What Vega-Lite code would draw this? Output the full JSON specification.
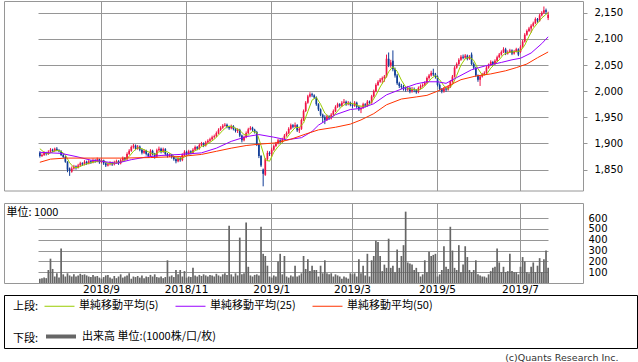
{
"$schema": "https://vega.github.io/schema/vega-lite/v6.json",
"padding": {"left": 3, "top": 0, "right": 0, "bottom": 0},
"autosize": {"type": "pad"},
"background": "white",
"bounds": "flush",
"config": {
  "view": {"stroke": "#969696", "strokeWidth": 1},
  "font": "DejaVu Sans",
  "axis": {"gridColor": "#969696", "gridOpacity": 1, "gridWidth": 1, "domain": false, "labelColor": "#000000", "labelFont": "DejaVu Sans", "labelOverlap": false}
},
"title": {"text": "(c)Quants Research Inc.", "orient": "bottom", "anchor": "end", "font": "DejaVu Sans", "fontSize": 9.5, "fontWeight": "normal", "color": "#333333", "offset": 4, "dx": -19},
"spacing": 12,
"datasets": {
"p": [
{"d":"2018-07-24","o":1882,"h":1885,"l":1873,"c":1876,"v":40},
{"d":"2018-07-25","o":1876,"h":1881,"l":1874,"c":1878,"v":45},
{"d":"2018-07-26","o":1878,"h":1885,"l":1876,"c":1882,"v":50},
{"d":"2018-07-27","o":1882,"h":1884,"l":1877,"c":1880,"v":45},
{"d":"2018-07-30","o":1880,"h":1887,"l":1878,"c":1884,"v":120},
{"d":"2018-07-31","o":1884,"h":1891,"l":1882,"c":1888,"v":225},
{"d":"2018-08-01","o":1888,"h":1890,"l":1883,"c":1886,"v":130},
{"d":"2018-08-02","o":1886,"h":1892,"l":1884,"c":1890,"v":60},
{"d":"2018-08-03","o":1890,"h":1893,"l":1885,"c":1887,"v":90},
{"d":"2018-08-06","o":1887,"h":1889,"l":1883,"c":1885,"v":50},
{"d":"2018-08-07","o":1885,"h":1887,"l":1876,"c":1878,"v":320},
{"d":"2018-08-08","o":1878,"h":1880,"l":1872,"c":1874,"v":80},
{"d":"2018-08-09","o":1874,"h":1876,"l":1863,"c":1865,"v":60},
{"d":"2018-08-10","o":1865,"h":1866,"l":1845,"c":1850,"v":90},
{"d":"2018-08-13","o":1852,"h":1854,"l":1838,"c":1848,"v":70},
{"d":"2018-08-14","o":1846,"h":1856,"l":1844,"c":1852,"v":60},
{"d":"2018-08-15","o":1852,"h":1859,"l":1850,"c":1856,"v":80},
{"d":"2018-08-16","o":1856,"h":1858,"l":1850,"c":1854,"v":60},
{"d":"2018-08-17","o":1854,"h":1861,"l":1852,"c":1858,"v":70},
{"d":"2018-08-20","o":1858,"h":1865,"l":1856,"c":1862,"v":85},
{"d":"2018-08-21","o":1862,"h":1864,"l":1857,"c":1860,"v":75},
{"d":"2018-08-22","o":1860,"h":1868,"l":1858,"c":1865,"v":80},
{"d":"2018-08-23","o":1865,"h":1867,"l":1859,"c":1862,"v":70},
{"d":"2018-08-24","o":1862,"h":1869,"l":1860,"c":1866,"v":60},
{"d":"2018-08-27","o":1866,"h":1868,"l":1861,"c":1864,"v":55},
{"d":"2018-08-28","o":1864,"h":1871,"l":1862,"c":1868,"v":75},
{"d":"2018-08-29","o":1868,"h":1870,"l":1863,"c":1866,"v":60},
{"d":"2018-08-30","o":1866,"h":1873,"l":1864,"c":1870,"v":65},
{"d":"2018-08-31","o":1870,"h":1871,"l":1861,"c":1864,"v":50},
{"d":"2018-09-03","o":1864,"h":1870,"l":1862,"c":1868,"v":40},
{"d":"2018-09-04","o":1868,"h":1869,"l":1859,"c":1862,"v":55},
{"d":"2018-09-05","o":1862,"h":1864,"l":1855,"c":1858,"v":70},
{"d":"2018-09-06","o":1858,"h":1863,"l":1856,"c":1860,"v":75},
{"d":"2018-09-07","o":1860,"h":1866,"l":1858,"c":1863,"v":50},
{"d":"2018-09-10","o":1863,"h":1865,"l":1857,"c":1860,"v":40},
{"d":"2018-09-11","o":1860,"h":1867,"l":1858,"c":1864,"v":65},
{"d":"2018-09-12","o":1864,"h":1869,"l":1861,"c":1866,"v":45},
{"d":"2018-09-13","o":1866,"h":1868,"l":1859,"c":1862,"v":60},
{"d":"2018-09-14","o":1862,"h":1871,"l":1860,"c":1868,"v":80},
{"d":"2018-09-18","o":1868,"h":1875,"l":1866,"c":1872,"v":50},
{"d":"2018-09-19","o":1872,"h":1874,"l":1867,"c":1870,"v":60},
{"d":"2018-09-20","o":1870,"h":1883,"l":1868,"c":1880,"v":70},
{"d":"2018-09-21","o":1880,"h":1889,"l":1878,"c":1886,"v":90},
{"d":"2018-09-25","o":1886,"h":1896,"l":1884,"c":1893,"v":40},
{"d":"2018-09-26","o":1893,"h":1899,"l":1890,"c":1896,"v":60},
{"d":"2018-09-27","o":1896,"h":1898,"l":1887,"c":1890,"v":55},
{"d":"2018-09-28","o":1890,"h":1897,"l":1888,"c":1894,"v":65},
{"d":"2018-10-01","o":1894,"h":1896,"l":1885,"c":1888,"v":50},
{"d":"2018-10-02","o":1888,"h":1890,"l":1879,"c":1882,"v":70},
{"d":"2018-10-03","o":1882,"h":1889,"l":1880,"c":1886,"v":45},
{"d":"2018-10-04","o":1886,"h":1888,"l":1877,"c":1880,"v":60},
{"d":"2018-10-05","o":1880,"h":1882,"l":1873,"c":1876,"v":55},
{"d":"2018-10-09","o":1876,"h":1889,"l":1874,"c":1886,"v":75},
{"d":"2018-10-10","o":1886,"h":1888,"l":1877,"c":1880,"v":60},
{"d":"2018-10-11","o":1880,"h":1882,"l":1871,"c":1875,"v":80},
{"d":"2018-10-12","o":1875,"h":1890,"l":1873,"c":1887,"v":55},
{"d":"2018-10-15","o":1887,"h":1894,"l":1885,"c":1890,"v":50},
{"d":"2018-10-16","o":1890,"h":1892,"l":1881,"c":1884,"v":60},
{"d":"2018-10-17","o":1884,"h":1892,"l":1882,"c":1889,"v":45},
{"d":"2018-10-18","o":1889,"h":1891,"l":1877,"c":1880,"v":55},
{"d":"2018-10-19","o":1880,"h":1882,"l":1873,"c":1876,"v":210},
{"d":"2018-10-22","o":1876,"h":1881,"l":1874,"c":1878,"v":60},
{"d":"2018-10-23","o":1878,"h":1880,"l":1871,"c":1874,"v":70},
{"d":"2018-10-24","o":1874,"h":1876,"l":1867,"c":1870,"v":55},
{"d":"2018-10-25","o":1870,"h":1872,"l":1862,"c":1866,"v":120},
{"d":"2018-10-26","o":1866,"h":1875,"l":1864,"c":1872,"v":80},
{"d":"2018-10-29","o":1872,"h":1874,"l":1865,"c":1868,"v":120},
{"d":"2018-10-30","o":1868,"h":1881,"l":1866,"c":1878,"v":60},
{"d":"2018-10-31","o":1878,"h":1887,"l":1876,"c":1884,"v":110},
{"d":"2018-11-01","o":1884,"h":1886,"l":1877,"c":1880,"v":50},
{"d":"2018-11-02","o":1880,"h":1888,"l":1878,"c":1885,"v":60},
{"d":"2018-11-05","o":1885,"h":1887,"l":1879,"c":1882,"v":55},
{"d":"2018-11-06","o":1882,"h":1891,"l":1880,"c":1888,"v":140},
{"d":"2018-11-07","o":1888,"h":1896,"l":1886,"c":1893,"v":70},
{"d":"2018-11-08","o":1893,"h":1895,"l":1887,"c":1890,"v":60},
{"d":"2018-11-09","o":1890,"h":1900,"l":1888,"c":1897,"v":75},
{"d":"2018-11-12","o":1897,"h":1903,"l":1895,"c":1900,"v":65},
{"d":"2018-11-13","o":1900,"h":1902,"l":1893,"c":1896,"v":80},
{"d":"2018-11-14","o":1896,"h":1905,"l":1894,"c":1902,"v":70},
{"d":"2018-11-15","o":1902,"h":1908,"l":1900,"c":1905,"v":60},
{"d":"2018-11-16","o":1905,"h":1911,"l":1903,"c":1908,"v":75},
{"d":"2018-11-19","o":1908,"h":1915,"l":1906,"c":1912,"v":70},
{"d":"2018-11-20","o":1912,"h":1917,"l":1909,"c":1914,"v":60},
{"d":"2018-11-21","o":1914,"h":1923,"l":1912,"c":1920,"v":85},
{"d":"2018-11-22","o":1920,"h":1929,"l":1918,"c":1926,"v":70},
{"d":"2018-11-26","o":1926,"h":1933,"l":1924,"c":1930,"v":60},
{"d":"2018-11-27","o":1930,"h":1937,"l":1928,"c":1934,"v":80},
{"d":"2018-11-28","o":1934,"h":1939,"l":1932,"c":1936,"v":90},
{"d":"2018-11-29","o":1936,"h":1938,"l":1929,"c":1932,"v":75},
{"d":"2018-11-30","o":1932,"h":1934,"l":1926,"c":1929,"v":530},
{"d":"2018-12-03","o":1929,"h":1936,"l":1927,"c":1933,"v":80},
{"d":"2018-12-04","o":1933,"h":1935,"l":1925,"c":1928,"v":60},
{"d":"2018-12-05","o":1928,"h":1930,"l":1921,"c":1924,"v":90},
{"d":"2018-12-06","o":1924,"h":1929,"l":1920,"c":1926,"v":70},
{"d":"2018-12-07","o":1926,"h":1928,"l":1912,"c":1915,"v":420},
{"d":"2018-12-10","o":1915,"h":1917,"l":1902,"c":1906,"v":80},
{"d":"2018-12-11","o":1906,"h":1915,"l":1904,"c":1912,"v":90},
{"d":"2018-12-12","o":1912,"h":1923,"l":1910,"c":1920,"v":560},
{"d":"2018-12-13","o":1920,"h":1930,"l":1918,"c":1927,"v":150},
{"d":"2018-12-14","o":1927,"h":1933,"l":1925,"c":1930,"v":70},
{"d":"2018-12-17","o":1930,"h":1932,"l":1923,"c":1926,"v":60},
{"d":"2018-12-18","o":1926,"h":1928,"l":1919,"c":1922,"v":75},
{"d":"2018-12-19","o":1922,"h":1924,"l":1895,"c":1898,"v":80},
{"d":"2018-12-20","o":1898,"h":1900,"l":1872,"c":1876,"v":70},
{"d":"2018-12-21","o":1876,"h":1878,"l":1855,"c":1858,"v":520},
{"d":"2018-12-25","o":1850,"h":1852,"l":1818,"c":1842,"v":270},
{"d":"2018-12-26","o":1840,"h":1872,"l":1838,"c":1870,"v":250},
{"d":"2018-12-27","o":1870,"h":1886,"l":1866,"c":1882,"v":160},
{"d":"2018-12-28","o":1882,"h":1885,"l":1876,"c":1880,"v":60},
{"d":"2019-01-04","o":1880,"h":1892,"l":1874,"c":1888,"v":50},
{"d":"2019-01-07","o":1888,"h":1898,"l":1886,"c":1895,"v":70},
{"d":"2019-01-08","o":1895,"h":1903,"l":1893,"c":1900,"v":60},
{"d":"2019-01-09","o":1900,"h":1909,"l":1898,"c":1906,"v":200},
{"d":"2019-01-10","o":1906,"h":1908,"l":1900,"c":1903,"v":270},
{"d":"2019-01-11","o":1903,"h":1911,"l":1901,"c":1908,"v":80},
{"d":"2019-01-15","o":1908,"h":1918,"l":1906,"c":1915,"v":250},
{"d":"2019-01-16","o":1915,"h":1923,"l":1913,"c":1920,"v":60},
{"d":"2019-01-17","o":1920,"h":1931,"l":1918,"c":1928,"v":50},
{"d":"2019-01-18","o":1928,"h":1938,"l":1926,"c":1935,"v":70},
{"d":"2019-01-21","o":1935,"h":1937,"l":1929,"c":1932,"v":60},
{"d":"2019-01-22","o":1932,"h":1940,"l":1930,"c":1935,"v":160},
{"d":"2019-01-23","o":1935,"h":1937,"l":1922,"c":1925,"v":60},
{"d":"2019-01-24","o":1925,"h":1931,"l":1920,"c":1928,"v":70},
{"d":"2019-01-25","o":1928,"h":1948,"l":1926,"c":1945,"v":90},
{"d":"2019-01-28","o":1945,"h":1965,"l":1943,"c":1962,"v":250},
{"d":"2019-01-29","o":1962,"h":1981,"l":1960,"c":1978,"v":130},
{"d":"2019-01-30","o":1978,"h":1993,"l":1976,"c":1990,"v":220},
{"d":"2019-01-31","o":1990,"h":1998,"l":1988,"c":1994,"v":110},
{"d":"2019-02-01","o":1994,"h":1997,"l":1989,"c":1992,"v":160},
{"d":"2019-02-04","o":1992,"h":1994,"l":1985,"c":1988,"v":120},
{"d":"2019-02-05","o":1988,"h":1990,"l":1972,"c":1975,"v":120},
{"d":"2019-02-06","o":1975,"h":1977,"l":1962,"c":1965,"v":60},
{"d":"2019-02-07","o":1965,"h":1967,"l":1952,"c":1955,"v":160},
{"d":"2019-02-08","o":1955,"h":1957,"l":1940,"c":1950,"v":90},
{"d":"2019-02-12","o":1950,"h":1954,"l":1937,"c":1945,"v":210},
{"d":"2019-02-13","o":1945,"h":1955,"l":1943,"c":1952,"v":90},
{"d":"2019-02-14","o":1952,"h":1954,"l":1945,"c":1948,"v":80},
{"d":"2019-02-15","o":1948,"h":1958,"l":1946,"c":1955,"v":90},
{"d":"2019-02-18","o":1955,"h":1965,"l":1953,"c":1962,"v":60},
{"d":"2019-02-19","o":1962,"h":1973,"l":1960,"c":1970,"v":80},
{"d":"2019-02-20","o":1970,"h":1978,"l":1968,"c":1975,"v":70},
{"d":"2019-02-21","o":1975,"h":1977,"l":1969,"c":1972,"v":60},
{"d":"2019-02-22","o":1972,"h":1981,"l":1970,"c":1978,"v":40},
{"d":"2019-02-25","o":1978,"h":1985,"l":1976,"c":1980,"v":60},
{"d":"2019-02-26","o":1980,"h":1982,"l":1972,"c":1975,"v":50},
{"d":"2019-02-27","o":1975,"h":1981,"l":1973,"c":1978,"v":40},
{"d":"2019-02-28","o":1978,"h":1980,"l":1971,"c":1974,"v":90},
{"d":"2019-03-01","o":1974,"h":1977,"l":1968,"c":1972,"v":80},
{"d":"2019-03-04","o":1972,"h":1981,"l":1970,"c":1978,"v":90},
{"d":"2019-03-05","o":1978,"h":1980,"l":1967,"c":1970,"v":60},
{"d":"2019-03-06","o":1970,"h":1972,"l":1962,"c":1965,"v":220},
{"d":"2019-03-07","o":1965,"h":1971,"l":1958,"c":1968,"v":90},
{"d":"2019-03-08","o":1968,"h":1978,"l":1966,"c":1975,"v":160},
{"d":"2019-03-11","o":1975,"h":1977,"l":1969,"c":1972,"v":70},
{"d":"2019-03-12","o":1972,"h":1983,"l":1970,"c":1980,"v":270},
{"d":"2019-03-13","o":1980,"h":1982,"l":1975,"c":1978,"v":60},
{"d":"2019-03-14","o":1978,"h":1993,"l":1976,"c":1990,"v":210},
{"d":"2019-03-15","o":1990,"h":2003,"l":1988,"c":2000,"v":250},
{"d":"2019-03-18","o":2000,"h":2015,"l":1998,"c":2012,"v":390},
{"d":"2019-03-19","o":2012,"h":2021,"l":2010,"c":2018,"v":380},
{"d":"2019-03-20","o":2018,"h":2025,"l":2016,"c":2022,"v":250},
{"d":"2019-03-22","o":2022,"h":2028,"l":2015,"c":2025,"v":110},
{"d":"2019-03-25","o":2025,"h":2031,"l":2018,"c":2028,"v":170},
{"d":"2019-03-26","o":2028,"h":2070,"l":2026,"c":2062,"v":140},
{"d":"2019-03-27","o":2062,"h":2074,"l":2046,"c":2050,"v":410},
{"d":"2019-03-28","o":2050,"h":2060,"l":2045,"c":2055,"v":140},
{"d":"2019-03-29","o":2058,"h":2078,"l":2038,"c":2042,"v":160},
{"d":"2019-04-01","o":2042,"h":2045,"l":2026,"c":2030,"v":100},
{"d":"2019-04-02","o":2030,"h":2033,"l":2012,"c":2015,"v":310},
{"d":"2019-04-03","o":2015,"h":2018,"l":2006,"c":2010,"v":140},
{"d":"2019-04-04","o":2010,"h":2014,"l":2004,"c":2008,"v":250},
{"d":"2019-04-05","o":2008,"h":2012,"l":2001,"c":2005,"v":350},
{"d":"2019-04-08","o":2005,"h":2009,"l":1999,"c":2003,"v":660},
{"d":"2019-04-09","o":2003,"h":2010,"l":2000,"c":2006,"v":190},
{"d":"2019-04-10","o":2006,"h":2008,"l":1996,"c":2000,"v":180},
{"d":"2019-04-11","o":2000,"h":2008,"l":1997,"c":2004,"v":170},
{"d":"2019-04-12","o":2004,"h":2007,"l":1998,"c":2002,"v":120},
{"d":"2019-04-15","o":2002,"h":2004,"l":1995,"c":1998,"v":140},
{"d":"2019-04-16","o":1998,"h":2009,"l":1996,"c":2006,"v":100},
{"d":"2019-04-17","o":2006,"h":2013,"l":2003,"c":2010,"v":60},
{"d":"2019-04-18","o":2010,"h":2015,"l":2007,"c":2012,"v":80},
{"d":"2019-04-19","o":2012,"h":2019,"l":2010,"c":2016,"v":210},
{"d":"2019-04-22","o":2016,"h":2028,"l":2014,"c":2025,"v":100},
{"d":"2019-04-23","o":2025,"h":2033,"l":2022,"c":2030,"v":290},
{"d":"2019-04-24","o":2030,"h":2039,"l":2028,"c":2035,"v":250},
{"d":"2019-04-25","o":2035,"h":2043,"l":2029,"c":2032,"v":260},
{"d":"2019-04-26","o":2032,"h":2035,"l":2024,"c":2028,"v":270},
{"d":"2019-05-07","o":2028,"h":2030,"l":2009,"c":2012,"v":60},
{"d":"2019-05-08","o":2012,"h":2015,"l":2001,"c":2004,"v":80},
{"d":"2019-05-09","o":2004,"h":2006,"l":1996,"c":2000,"v":120},
{"d":"2019-05-10","o":2000,"h":2008,"l":1997,"c":2005,"v":340},
{"d":"2019-05-13","o":2005,"h":2007,"l":1999,"c":2003,"v":150},
{"d":"2019-05-14","o":2003,"h":2011,"l":2001,"c":2008,"v":130},
{"d":"2019-05-15","o":2008,"h":2021,"l":2006,"c":2018,"v":520},
{"d":"2019-05-16","o":2018,"h":2031,"l":2016,"c":2028,"v":300},
{"d":"2019-05-17","o":2028,"h":2048,"l":2026,"c":2045,"v":140},
{"d":"2019-05-20","o":2045,"h":2055,"l":2043,"c":2052,"v":120},
{"d":"2019-05-21","o":2052,"h":2063,"l":2050,"c":2060,"v":350},
{"d":"2019-05-22","o":2060,"h":2069,"l":2058,"c":2066,"v":100},
{"d":"2019-05-23","o":2066,"h":2070,"l":2061,"c":2064,"v":170},
{"d":"2019-05-24","o":2064,"h":2071,"l":2062,"c":2068,"v":340},
{"d":"2019-05-27","o":2068,"h":2070,"l":2059,"c":2062,"v":240},
{"d":"2019-05-28","o":2062,"h":2069,"l":2060,"c":2066,"v":120},
{"d":"2019-05-29","o":2070,"h":2074,"l":2050,"c":2052,"v":100},
{"d":"2019-05-30","o":2052,"h":2055,"l":2042,"c":2045,"v":120},
{"d":"2019-05-31","o":2045,"h":2047,"l":2027,"c":2030,"v":210},
{"d":"2019-06-03","o":2030,"h":2032,"l":2018,"c":2022,"v":80},
{"d":"2019-06-04","o":2022,"h":2031,"l":2010,"c":2028,"v":70},
{"d":"2019-06-05","o":2028,"h":2035,"l":2026,"c":2032,"v":60},
{"d":"2019-06-06","o":2032,"h":2038,"l":2030,"c":2035,"v":60},
{"d":"2019-06-07","o":2035,"h":2048,"l":2033,"c":2045,"v":50},
{"d":"2019-06-10","o":2045,"h":2053,"l":2043,"c":2050,"v":80},
{"d":"2019-06-11","o":2050,"h":2059,"l":2048,"c":2056,"v":110},
{"d":"2019-06-12","o":2056,"h":2058,"l":2049,"c":2052,"v":140},
{"d":"2019-06-13","o":2052,"h":2061,"l":2050,"c":2058,"v":150},
{"d":"2019-06-14","o":2058,"h":2068,"l":2056,"c":2065,"v":320},
{"d":"2019-06-17","o":2065,"h":2073,"l":2063,"c":2070,"v":190},
{"d":"2019-06-18","o":2070,"h":2078,"l":2068,"c":2075,"v":100},
{"d":"2019-06-19","o":2075,"h":2084,"l":2073,"c":2080,"v":150},
{"d":"2019-06-20","o":2080,"h":2083,"l":2069,"c":2072,"v":100},
{"d":"2019-06-21","o":2072,"h":2078,"l":2070,"c":2075,"v":110},
{"d":"2019-06-24","o":2075,"h":2081,"l":2073,"c":2078,"v":270},
{"d":"2019-06-25","o":2078,"h":2080,"l":2069,"c":2072,"v":110},
{"d":"2019-06-26","o":2072,"h":2079,"l":2070,"c":2076,"v":100},
{"d":"2019-06-27","o":2076,"h":2083,"l":2074,"c":2080,"v":100},
{"d":"2019-06-28","o":2080,"h":2082,"l":2067,"c":2070,"v":80},
{"d":"2019-07-01","o":2075,"h":2088,"l":2073,"c":2085,"v":150},
{"d":"2019-07-02","o":2085,"h":2098,"l":2083,"c":2095,"v":240},
{"d":"2019-07-03","o":2095,"h":2111,"l":2093,"c":2108,"v":200},
{"d":"2019-07-04","o":2108,"h":2118,"l":2106,"c":2115,"v":100},
{"d":"2019-07-05","o":2115,"h":2123,"l":2113,"c":2120,"v":90},
{"d":"2019-07-08","o":2120,"h":2128,"l":2112,"c":2125,"v":150},
{"d":"2019-07-09","o":2125,"h":2133,"l":2123,"c":2130,"v":190},
{"d":"2019-07-10","o":2130,"h":2141,"l":2128,"c":2138,"v":100},
{"d":"2019-07-11","o":2138,"h":2140,"l":2131,"c":2135,"v":160},
{"d":"2019-07-12","o":2135,"h":2148,"l":2133,"c":2145,"v":230},
{"d":"2019-07-16","o":2145,"h":2153,"l":2143,"c":2150,"v":100},
{"d":"2019-07-17","o":2150,"h":2162,"l":2148,"c":2155,"v":220},
{"d":"2019-07-18","o":2155,"h":2158,"l":2148,"c":2152,"v":300},
{"d":"2019-07-19","o":2140,"h":2152,"l":2136,"c":2146,"v":140}
],
"ma": [
{"d":"2018-07-24","s":"m5","v":1890},{"d":"2018-07-26","s":"m5","v":1883},{"d":"2018-07-30","s":"m5","v":1880},{"d":"2018-08-01","s":"m5","v":1884},{"d":"2018-08-03","s":"m5","v":1887},{"d":"2018-08-07","s":"m5","v":1885},{"d":"2018-08-09","s":"m5","v":1878},{"d":"2018-08-13","s":"m5","v":1863},{"d":"2018-08-15","s":"m5","v":1854},{"d":"2018-08-17","s":"m5","v":1854},{"d":"2018-08-21","s":"m5","v":1858},{"d":"2018-08-23","s":"m5","v":1861},{"d":"2018-08-27","s":"m5","v":1863},{"d":"2018-08-29","s":"m5","v":1865},{"d":"2018-08-31","s":"m5","v":1866},{"d":"2018-09-04","s":"m5","v":1866},{"d":"2018-09-06","s":"m5","v":1862},{"d":"2018-09-10","s":"m5","v":1861},{"d":"2018-09-12","s":"m5","v":1863},{"d":"2018-09-14","s":"m5","v":1864},{"d":"2018-09-19","s":"m5","v":1868},{"d":"2018-09-21","s":"m5","v":1875},{"d":"2018-09-26","s":"m5","v":1885},{"d":"2018-09-28","s":"m5","v":1892},{"d":"2018-10-02","s":"m5","v":1890},{"d":"2018-10-04","s":"m5","v":1886},{"d":"2018-10-09","s":"m5","v":1882},{"d":"2018-10-11","s":"m5","v":1879},{"d":"2018-10-15","s":"m5","v":1884},{"d":"2018-10-17","s":"m5","v":1885},{"d":"2018-10-19","s":"m5","v":1884},{"d":"2018-10-23","s":"m5","v":1879},{"d":"2018-10-25","s":"m5","v":1873},{"d":"2018-10-29","s":"m5","v":1870},{"d":"2018-10-31","s":"m5","v":1874},{"d":"2018-11-02","s":"m5","v":1879},{"d":"2018-11-06","s":"m5","v":1884},{"d":"2018-11-08","s":"m5","v":1888},{"d":"2018-11-12","s":"m5","v":1894},{"d":"2018-11-14","s":"m5","v":1897},{"d":"2018-11-16","s":"m5","v":1902},{"d":"2018-11-20","s":"m5","v":1908},{"d":"2018-11-22","s":"m5","v":1916},{"d":"2018-11-27","s":"m5","v":1925},{"d":"2018-11-29","s":"m5","v":1932},{"d":"2018-12-03","s":"m5","v":1933},{"d":"2018-12-05","s":"m5","v":1929},{"d":"2018-12-07","s":"m5","v":1925},{"d":"2018-12-11","s":"m5","v":1917},{"d":"2018-12-13","s":"m5","v":1916},{"d":"2018-12-17","s":"m5","v":1923},{"d":"2018-12-19","s":"m5","v":1921},{"d":"2018-12-21","s":"m5","v":1896},{"d":"2018-12-26","s":"m5","v":1869},{"d":"2018-12-28","s":"m5","v":1866},{"d":"2019-01-07","s":"m5","v":1883},{"d":"2019-01-09","s":"m5","v":1894},{"d":"2019-01-11","s":"m5","v":1902},{"d":"2019-01-16","s":"m5","v":1910},{"d":"2019-01-18","s":"m5","v":1921},{"d":"2019-01-22","s":"m5","v":1930},{"d":"2019-01-24","s":"m5","v":1931},{"d":"2019-01-28","s":"m5","v":1939},{"d":"2019-01-30","s":"m5","v":1961},{"d":"2019-02-01","s":"m5","v":1983},{"d":"2019-02-05","s":"m5","v":1988},{"d":"2019-02-07","s":"m5","v":1975},{"d":"2019-02-12","s":"m5","v":1958},{"d":"2019-02-14","s":"m5","v":1950},{"d":"2019-02-18","s":"m5","v":1952},{"d":"2019-02-20","s":"m5","v":1962},{"d":"2019-02-22","s":"m5","v":1971},{"d":"2019-02-26","s":"m5","v":1976},{"d":"2019-02-28","s":"m5","v":1977},{"d":"2019-03-04","s":"m5","v":1975},{"d":"2019-03-06","s":"m5","v":1972},{"d":"2019-03-08","s":"m5","v":1971},{"d":"2019-03-12","s":"m5","v":1972},{"d":"2019-03-14","s":"m5","v":1979},{"d":"2019-03-18","s":"m5","v":1992},{"d":"2019-03-20","s":"m5","v":2008},{"d":"2019-03-25","s":"m5","v":2021},{"d":"2019-03-27","s":"m5","v":2037},{"d":"2019-03-29","s":"m5","v":2047},{"d":"2019-04-02","s":"m5","v":2038},{"d":"2019-04-04","s":"m5","v":2021},{"d":"2019-04-08","s":"m5","v":2008},{"d":"2019-04-10","s":"m5","v":2004},{"d":"2019-04-12","s":"m5","v":2003},{"d":"2019-04-16","s":"m5","v":2002},{"d":"2019-04-18","s":"m5","v":2006},{"d":"2019-04-22","s":"m5","v":2014},{"d":"2019-04-24","s":"m5","v":2024},{"d":"2019-04-26","s":"m5","v":2030},{"d":"2019-05-08","s":"m5","v":2022},{"d":"2019-05-10","s":"m5","v":2010},{"d":"2019-05-14","s":"m5","v":2004},{"d":"2019-05-16","s":"m5","v":2012},{"d":"2019-05-20","s":"m5","v":2030},{"d":"2019-05-22","s":"m5","v":2050},{"d":"2019-05-24","s":"m5","v":2062},{"d":"2019-05-28","s":"m5","v":2065},{"d":"2019-05-30","s":"m5","v":2059},{"d":"2019-06-03","s":"m5","v":2043},{"d":"2019-06-05","s":"m5","v":2031},{"d":"2019-06-07","s":"m5","v":2032},{"d":"2019-06-11","s":"m5","v":2044},{"d":"2019-06-13","s":"m5","v":2052},{"d":"2019-06-17","s":"m5","v":2060},{"d":"2019-06-19","s":"m5","v":2070},{"d":"2019-06-21","s":"m5","v":2074},{"d":"2019-06-25","s":"m5","v":2075},{"d":"2019-06-27","s":"m5","v":2076},{"d":"2019-07-01","s":"m5","v":2077},{"d":"2019-07-03","s":"m5","v":2088},{"d":"2019-07-05","s":"m5","v":2105},{"d":"2019-07-09","s":"m5","v":2120},{"d":"2019-07-11","s":"m5","v":2130},{"d":"2019-07-16","s":"m5","v":2140},{"d":"2019-07-18","s":"m5","v":2147},{"d":"2019-07-19","s":"m5","v":2150},
{"d":"2018-07-24","s":"m25","v":1883},{"d":"2018-08-07","s":"m25","v":1881},{"d":"2018-08-16","s":"m25","v":1875},{"d":"2018-08-27","s":"m25","v":1868},{"d":"2018-09-03","s":"m25","v":1866},{"d":"2018-09-12","s":"m25","v":1862},{"d":"2018-09-25","s":"m25","v":1869},{"d":"2018-10-04","s":"m25","v":1874},{"d":"2018-10-16","s":"m25","v":1877},{"d":"2018-10-29","s":"m25","v":1879},{"d":"2018-11-12","s":"m25","v":1882},{"d":"2018-11-21","s":"m25","v":1891},{"d":"2018-12-03","s":"m25","v":1904},{"d":"2018-12-12","s":"m25","v":1913},{"d":"2018-12-20","s":"m25","v":1917},{"d":"2019-01-07","s":"m25","v":1912},{"d":"2019-01-16","s":"m25","v":1907},{"d":"2019-01-25","s":"m25","v":1911},{"d":"2019-02-01","s":"m25","v":1923},{"d":"2019-02-06","s":"m25","v":1935},{"d":"2019-02-19","s":"m25","v":1955},{"d":"2019-02-28","s":"m25","v":1965},{"d":"2019-03-07","s":"m25","v":1967},{"d":"2019-03-15","s":"m25","v":1976},{"d":"2019-03-26","s":"m25","v":1993},{"d":"2019-04-04","s":"m25","v":2004},{"d":"2019-04-15","s":"m25","v":2014},{"d":"2019-04-22","s":"m25","v":2018},{"d":"2019-05-07","s":"m25","v":2018},{"d":"2019-05-13","s":"m25","v":2015},{"d":"2019-05-20","s":"m25","v":2026},{"d":"2019-05-29","s":"m25","v":2041},{"d":"2019-06-07","s":"m25","v":2049},{"d":"2019-06-18","s":"m25","v":2055},{"d":"2019-06-25","s":"m25","v":2060},{"d":"2019-07-01","s":"m25","v":2063},{"d":"2019-07-08","s":"m25","v":2073},{"d":"2019-07-16","s":"m25","v":2091},{"d":"2019-07-19","s":"m25","v":2104},
{"d":"2018-07-24","s":"m50","v":1864},{"d":"2018-07-31","s":"m50","v":1870},{"d":"2018-08-09","s":"m50","v":1872},{"d":"2018-08-27","s":"m50","v":1872},{"d":"2018-09-14","s":"m50","v":1872},{"d":"2018-10-09","s":"m50","v":1873},{"d":"2018-10-29","s":"m50","v":1875},{"d":"2018-11-12","s":"m50","v":1879},{"d":"2018-11-21","s":"m50","v":1885},{"d":"2018-12-03","s":"m50","v":1891},{"d":"2018-12-12","s":"m50","v":1896},{"d":"2018-12-21","s":"m50","v":1899},{"d":"2019-01-08","s":"m50","v":1901},{"d":"2019-01-18","s":"m50","v":1908},{"d":"2019-01-29","s":"m50","v":1918},{"d":"2019-02-06","s":"m50","v":1926},{"d":"2019-02-19","s":"m50","v":1931},{"d":"2019-02-28","s":"m50","v":1937},{"d":"2019-03-07","s":"m50","v":1945},{"d":"2019-03-15","s":"m50","v":1957},{"d":"2019-03-26","s":"m50","v":1974},{"d":"2019-04-04","s":"m50","v":1985},{"d":"2019-04-15","s":"m50","v":1989},{"d":"2019-04-22","s":"m50","v":1992},{"d":"2019-05-07","s":"m50","v":2000},{"d":"2019-05-13","s":"m50","v":2008},{"d":"2019-05-22","s":"m50","v":2022},{"d":"2019-05-31","s":"m50","v":2029},{"d":"2019-06-11","s":"m50","v":2033},{"d":"2019-06-20","s":"m50","v":2039},{"d":"2019-06-27","s":"m50","v":2045},{"d":"2019-07-04","s":"m50","v":2052},{"d":"2019-07-11","s":"m50","v":2064},{"d":"2019-07-19","s":"m50","v":2075}
],
"lg1": [{"s":"単純移動平均(5)"},{"s":"単純移動平均(25)"},{"s":"単純移動平均(50)"}],
"lg2": [{"s":"出来高 単位:(1000株/口/枚)"}]
},
"vconcat": [
{
  "width": 579, "height": 189.5,
  "encoding": {
    "x": {"field": "d", "type": "ordinal",
      "scale": {"type": "band", "paddingInner": 0.2, "paddingOuter": 0, "range": [35, 545]},
      "axis": {"title": null, "labels": false, "ticks": false, "domain": false, "grid": true, "bandPosition": 0.5,
        "values": ["2018-09-03","2018-11-01","2019-01-04","2019-03-01","2019-05-07","2019-07-01"]}}
  },
  "layer": [
    {"data": {"name": "p"}, "mark": {"type": "rule", "strokeWidth": 1},
     "encoding": {
       "y": {"field": "l", "type": "quantitative", "scale": {"domain": [1810, 2172.5], "nice": false, "zero": false},
         "axis": {"orient": "right", "title": null, "values": [1850,1900,1950,2000,2050,2100,2150], "tickCount": 20, "format": ",d", "grid": true, "ticks": true, "tickSize": 4, "tickColor": "#969696", "labelPadding": 7, "labelFontSize": 10, "domain": false}},
       "y2": {"field": "h"},
       "color": {"condition": {"test": "datum.c >= datum.o", "value": "#f01446"}, "value": "#103c96"}
     }},
    {"data": {"name": "p"}, "mark": {"type": "bar"},
     "encoding": {
       "y": {"field": "o", "type": "quantitative"},
       "y2": {"field": "c"},
       "color": {"condition": {"test": "datum.c >= datum.o", "value": "#f01446"}, "value": "#103c96"}
     }},
    {"data": {"name": "ma"}, "mark": {"type": "line", "strokeWidth": 1},
     "encoding": {
       "y": {"field": "v", "type": "quantitative"},
       "color": {"field": "s", "type": "nominal", "scale": {"domain": ["m50","m25","m5"], "range": ["#ff3300","#9900ff","#99cc00"]}, "legend": null}
     }}
  ]
},
{
  "width": 579, "height": 80,
  "data": {"name": "p"},
  "mark": {"type": "bar", "color": "#666666"},
  "encoding": {
    "x": {"field": "d", "type": "ordinal",
      "scale": {"type": "band", "paddingInner": 0.2, "paddingOuter": 0, "range": [35, 545]},
      "axis": {"title": null, "labels": true, "ticks": false, "domain": false, "grid": true, "bandPosition": 0.5, "labelAngle": 0, "labelPadding": 1, "labelFontSize": 10.5,
        "values": ["2018-09-03","2018-11-01","2019-01-04","2019-03-01","2019-05-07","2019-07-01"],
        "labelExpr": "substring(datum.value,0,4) + '/' + parseInt(substring(datum.value,5,7))"}},
    "y": {"field": "v", "type": "quantitative", "scale": {"domain": [0, 740], "nice": false},
      "axis": {"orient": "right", "values": [100,200,300,400,500,600], "tickCount": 20, "grid": true, "ticks": false, "labelPadding": 5, "labelFontSize": 10, "domain": false,
        "title": "単位: 1000", "titleAngle": 0, "titleX": -577, "titleY": 3, "titleAlign": "left", "titleBaseline": "top", "titleFont": "Noto Sans CJK JP", "titleFontSize": 11, "titleFontWeight": "normal", "titleColor": "#000000"}}
  }
},
{
  "width": 633, "height": 53,
  "view": {"stroke": "#000000", "strokeWidth": 1},
  "resolve": {"scale": {"color": "independent"}},
  "layer": [
    {"data": {"name": "lg1"}, "mark": {"type": "point", "opacity": 0},
     "encoding": {"color": {"field": "s", "type": "nominal", "sort": null,
       "scale": {"domain": ["単純移動平均(5)","単純移動平均(25)","単純移動平均(50)"], "range": ["#99cc00","#9900ff","#ff3300"]},
       "legend": {"title": "上段:", "orient": "none", "legendX": 9, "legendY": -4.5, "direction": "horizontal", "titleOrient": "left", "titleAnchor": "middle", "titlePadding": 5,
         "symbolType": "stroke", "symbolSize": 900, "symbolStrokeWidth": 1, "symbolOpacity": 1,
         "labelFont": "Noto Sans CJK JP", "labelFontSize": 11, "labelColor": "#000000", "labelOffset": 4, "columnPadding": 14,
         "titleFont": "Noto Sans CJK JP", "titleFontSize": 11, "titleFontWeight": "normal", "titleColor": "#000000", "titleBaseline": "top", "padding": 0}}}},
    {"data": {"name": "lg2"}, "mark": {"type": "point", "opacity": 0},
     "encoding": {"color": {"field": "s", "type": "nominal",
       "scale": {"range": ["#666666"]},
       "legend": {"title": "下段:", "orient": "none", "legendX": 9, "legendY": 24.5, "direction": "horizontal", "titleOrient": "left", "titleAnchor": "middle", "titlePadding": 5,
         "symbolType": "stroke", "symbolSize": 900, "symbolStrokeWidth": 4, "symbolOpacity": 1,
         "labelFont": "Noto Sans CJK JP", "labelFontSize": 11, "labelColor": "#000000", "labelOffset": 4,
         "titleFont": "Noto Sans CJK JP", "titleFontSize": 11, "titleFontWeight": "normal", "titleColor": "#000000", "titleBaseline": "top", "padding": 0}}}}
  ]
}
]
}
